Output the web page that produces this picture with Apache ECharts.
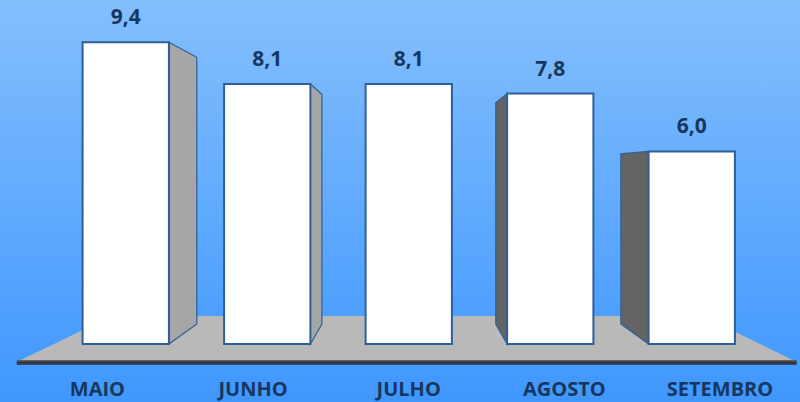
<!DOCTYPE html>
<html><head><meta charset="utf-8">
<script src="https://cdn.jsdelivr.net/npm/echarts@6/dist/echarts.min.js"></script>
<style>html,body{margin:0;padding:0;overflow:hidden;}#c{width:800px;height:402px;}</style>
</head><body><div id="c"></div>
<script>
const categories = ['MAIO', 'JUNHO', 'JULHO', 'AGOSTO', 'SETEMBRO'];
const values = [9.4, 8.1, 8.1, 7.8, 6.0];
const yRange = [0, 10];

const chart = echarts.init(document.getElementById('c'), null, {renderer: 'svg'});
const VP_VALUE = 5.36;   // eye height (vanishing point) in value units
const K = 0.116;         // bar depth factor
const K_FLOOR = 0.242;   // floor depth factor
const LABEL_COLOR = '#17375e';
const EDGE = '#2e5f99';
const fmt = v => v.toFixed(1).replace('.', ',');

function vpOf(api) {
  const p = api.coord([2, VP_VALUE]);
  return [p[0] + 0.7, p[1]];
}
function toward(p, vp, k) {
  return [p[0] + k * (vp[0] - p[0]), p[1] + k * (vp[1] - p[1])];
}

function renderFloor(params, api) {
  const vp = vpOf(api);
  const a = api.coord([0, 0]);
  const b = api.coord([categories.length - 1, 0]);
  const yF = a[1] + 18;
  const fl = [a[0] - 109, yF], fr = [b[0] + 105, yF];
  const bl = toward(fl, vp, K_FLOOR), br = toward(fr, vp, K_FLOOR);
  return {
    type: 'group',
    children: [
      {type: 'polygon', shape: {points: [fl, bl, br, fr]}, style: {fill: '#b9b9b9'}},
      {type: 'rect', shape: {x: fl[0], y: yF - 2, width: fr[0] - fl[0], height: 5},
        style: {fill: {type: 'linear', x: 0, y: 0, x2: 0, y2: 1,
          colorStops: [{offset: 0, color: '#6a6a6a'}, {offset: 0.5, color: '#333333'}, {offset: 1, color: '#2f4f80'}]}}}
    ]
  };
}

function renderBar(params, api) {
  const idx = api.value(0), v = api.value(1);
  const vp = vpOf(api);
  const base = api.coord([idx, 0]);
  const top = api.coord([idx, v]);
  const bw = api.size([1, 0])[0] * 0.61;
  const xl = base[0] - bw / 2, xr = base[0] + bw / 2;
  const yT = top[1], yB = base[1];
  const children = [];
  if (xr < vp[0]) {
    const pts = [[xr, yT], toward([xr, yT], vp, K), toward([xr, yB], vp, K), [xr, yB]];
    children.push({type: 'polygon', shape: {points: pts}, style: {fill: '#a6a6a6', stroke: EDGE, lineWidth: 1.2}});
  } else if (xl > vp[0]) {
    const pts = [[xl, yT], toward([xl, yT], vp, K), toward([xl, yB], vp, K), [xl, yB]];
    children.push({type: 'polygon', shape: {points: pts}, style: {fill: '#646464', stroke: EDGE, lineWidth: 1.2}});
  }
  children.push({type: 'rect', shape: {x: xl, y: yT, width: bw, height: yB - yT},
    style: {fill: '#ffffff', stroke: EDGE, lineWidth: 2}});
  children.push({type: 'text', x: base[0], y: yT - 26,
    style: {text: fmt(v), fill: LABEL_COLOR, font: 'bold 21px "Open Sans", sans-serif', align: 'center', verticalAlign: 'middle'}});
  children.push({type: 'text', x: base[0] - 0.1 * (vp[0] - base[0]), y: 388,
    style: {text: categories[idx], fill: LABEL_COLOR, font: 'bold 20px "Open Sans", sans-serif', align: 'center', verticalAlign: 'middle'}});
  return {type: 'group', children};
}

chart.setOption({
  animation: false,
  backgroundColor: {type: 'linear', x: 0, y: 0, x2: 0, y2: 1,
    colorStops: [{offset: 0, color: '#84bffd'}, {offset: 1, color: '#3f97fe'}]},
  grid: {left: 55, right: 37.5, top: 23, bottom: 58},
  xAxis: {type: 'category', data: categories, show: false},
  yAxis: {type: 'value', min: yRange[0], max: yRange[1], show: false},
  series: [
    {type: 'custom', z: 1, clip: false, renderItem: renderFloor, data: [[0]], silent: true},
    {type: 'custom', z: 2, clip: false, renderItem: renderBar,
      data: values.map((v, i) => [i, v]), encode: {x: 0, y: 1}}
  ]
});
</script></body></html>
